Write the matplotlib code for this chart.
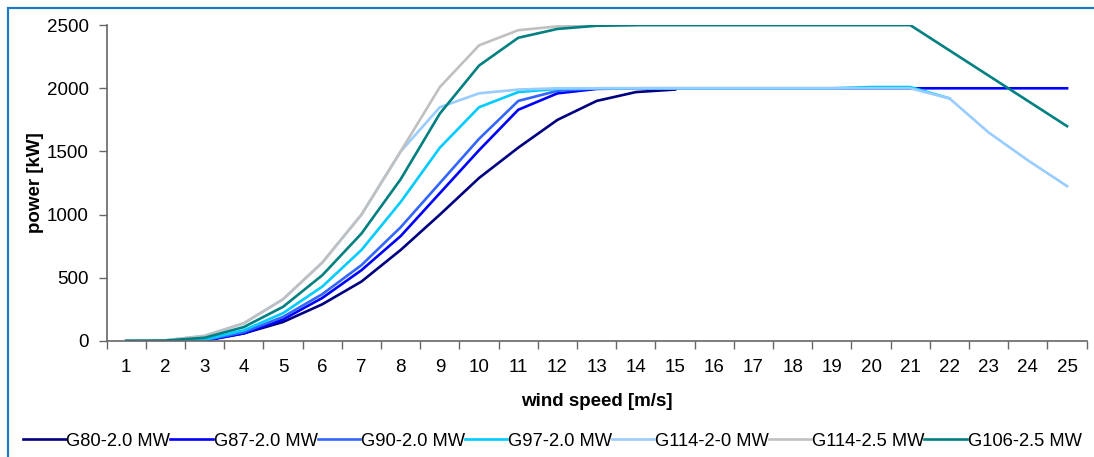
import matplotlib as mpl
import matplotlib.pyplot as plt
from matplotlib.patches import Rectangle

mpl.rc('font', family=['Liberation Sans', 'DejaVu Sans'], size=13.5)

# wind speed [m/s] and power curves [kW]
ws = list(range(1, 26))
g80 = [0, 0, 5, 60, 150, 290, 470, 720, 1000, 1290, 1530, 1750, 1900, 1970, 1990]
g87 = [0, 0, 0, 60, 170, 340, 560, 830, 1170, 1510, 1830, 1960, 1995, 2000, 2000,
       2000, 2000, 2000, 2000, 2000, 2000, 2000, 2000, 2000, 2000]
g90 = [0, 0, 5, 70, 190, 370, 600, 900, 1250, 1600, 1900, 1980, 2000, 2000, 2000,
       2000, 2000, 2000, 2000, 2000, 2000]
g97 = [0, 0, 10, 85, 220, 430, 720, 1100, 1530, 1850, 1970, 1995, 2000, 2000, 2000,
       2000, 2000, 2000, 2000, 2010, 2010, 1920]
g114_20 = [0, 5, 40, 140, 330, 620, 1000, 1500, 1850, 1960, 1990, 2000, 2000, 2000, 2000,
           2000, 2000, 2000, 2000, 2000, 2000, 1920, 1650, 1430, 1225]
g114_25 = [0, 5, 40, 140, 330, 620, 1000, 1500, 2010, 2340, 2460, 2490, 2500, 2500]
g106 = [0, 3, 25, 110, 270, 520, 850, 1280, 1800, 2180, 2400, 2470, 2495, 2500, 2500,
        2500, 2500, 2500, 2500, 2500, 2500, 2300, 2100, 1900, 1700]

series = [("G80-2.0 MW", g80, "#000080"),
          ("G87-2.0 MW", g87, "#0000FF"),
          ("G90-2.0 MW", g90, "#3366FF"),
          ("G97-2.0 MW", g97, "#00CCFF"),
          ("G114-2-0 MW", g114_20, "#99CCFF"),
          ("G114-2.5 MW", g114_25, "#C0C0C0"),
          ("G106-2.5 MW", g106, "#008080")]

fig = plt.figure(figsize=(10.94, 4.57), dpi=100)
ax = fig.add_axes([0.0975, 0.254, 0.8958, 0.691])

for name, vals, color in series:
    ax.plot(ws[:len(vals)], vals, color=color, lw=1.9, label=name)

ax.set_xlim(0.5, 25.5)
ax.set_ylim(0, 2500)
ax.set_yticks([0, 500, 1000, 1500, 2000, 2500])
ax.set_xticks(ws)
ax.set_xticks([x + 0.5 for x in range(0, 26)], minor=True)
ax.tick_params(axis='x', which='major', length=0, pad=13)
ax.tick_params(axis='x', which='minor', length=6, width=1, color='#666666', direction='out')
ax.tick_params(axis='y', length=6, width=1, color='#666666', pad=7)
for s in ['top', 'right']:
    ax.spines[s].set_visible(False)
for s in ['left', 'bottom']:
    ax.spines[s].set_color('#666666')
    ax.spines[s].set_linewidth(1.2)

ax.set_xlabel("wind speed [m/s]", fontweight='bold', labelpad=12)
ax.set_ylabel("power [kW]", fontweight='bold', labelpad=2)

leg = fig.legend(loc='center', bbox_to_anchor=(0.505, 0.035), ncol=7, frameon=False,
                 fontsize=13.2, handlelength=2.3, handletextpad=0.05, columnspacing=0.0, borderpad=0)

# blue chart frame
fig.patches.append(Rectangle((8 / 1094, -0.1), 1.2, 1.1 - 8 / 457, transform=fig.transFigure,
                             fill=False, edgecolor='#1F78C8', lw=1.6))

fig.savefig("out.png", dpi=100)
